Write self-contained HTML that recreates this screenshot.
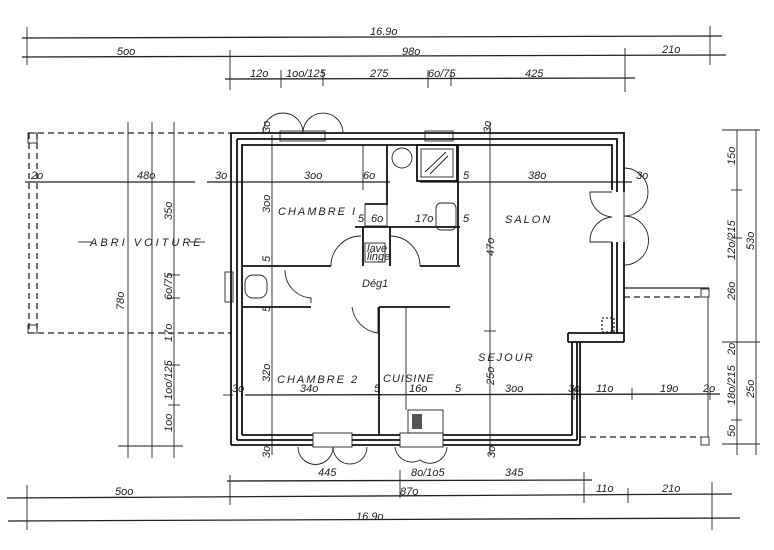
<!DOCTYPE html>
<html><head><meta charset="utf-8"><style>
html,body{margin:0;padding:0;background:#fff;}
svg{display:block;}
text{font-family:"Liberation Sans",sans-serif;font-style:italic;font-size:11px;fill:#222;}
.l{stroke:#222;stroke-width:1.3;fill:none;}
.t{stroke:#222;stroke-width:0.9;fill:none;}
.w{stroke:#111;stroke-width:1.8;fill:none;}
.d{stroke:#222;stroke-width:1.3;fill:none;stroke-dasharray:6,4;}
</style></head><body>
<svg width="774" height="550" viewBox="0 0 774 550" xmlns="http://www.w3.org/2000/svg">
<rect width="774" height="550" fill="#fff"/>
<!-- top dims -->
<line class="l" x1="22" y1="38" x2="722" y2="36"/>
<line class="l" x1="22" y1="57" x2="726" y2="55"/>
<line class="l" x1="225" y1="79" x2="635" y2="78"/>
<line class="t" x1="27" y1="27" x2="27" y2="65"/>
<line class="t" x1="710" y1="26" x2="710" y2="65"/>
<line class="t" x1="230" y1="50" x2="230" y2="90"/>
<line class="t" x1="625" y1="48" x2="625" y2="92"/>
<line class="t" x1="281" y1="70" x2="281" y2="88"/>
<line class="t" x1="323" y1="70" x2="323" y2="86"/>
<line class="t" x1="428" y1="70" x2="428" y2="88"/>
<line class="t" x1="451" y1="72" x2="451" y2="86"/>
<text x="370" y="35">16.9o</text>
<text x="117" y="55">5oo</text>
<text x="402" y="55">98o</text>
<text x="662" y="53">21o</text>
<text x="250" y="77">12o</text>
<text x="286" y="77" font-size="10">1oo/125</text>
<text x="370" y="77">275</text>
<text x="428" y="77" font-size="10">6o/75</text>
<text x="525" y="77">425</text>
<!-- bottom dims -->
<line class="l" x1="227" y1="481" x2="592" y2="480"/>
<line class="l" x1="7" y1="498" x2="732" y2="494"/>
<line class="l" x1="8" y1="521" x2="740" y2="518"/>
<line class="t" x1="27" y1="485" x2="27" y2="530"/>
<line class="t" x1="230" y1="475" x2="230" y2="505"/>
<line class="t" x1="400" y1="470" x2="400" y2="498"/>
<line class="t" x1="584" y1="472" x2="584" y2="503"/>
<line class="t" x1="628" y1="488" x2="628" y2="503"/>
<line class="t" x1="712" y1="482" x2="712" y2="530"/>
<text x="318" y="476">445</text>
<text x="411" y="476" font-size="10">8o/1o5</text>
<text x="505" y="476">345</text>
<text x="115" y="495">5oo</text>
<text x="400" y="495">87o</text>
<text x="596" y="492">11o</text>
<text x="662" y="492">21o</text>
<text x="356" y="520">16.9o</text>
<!-- carport -->
<line class="d" x1="28" y1="133" x2="232" y2="133"/>
<line class="d" x1="28" y1="333" x2="232" y2="333"/>
<line class="d" x1="29" y1="133" x2="29" y2="333"/>
<line class="d" x1="37" y1="133" x2="37" y2="333"/>
<rect class="t" x="28" y="133" width="9" height="10"/>
<rect class="t" x="28" y="325" width="9" height="8"/>
<line class="t" x1="128" y1="122" x2="128" y2="458"/>
<line class="t" x1="152" y1="122" x2="152" y2="458"/>
<line class="t" x1="174" y1="122" x2="174" y2="458"/>
<line class="t" x1="118" y1="446" x2="183" y2="446"/>
<line class="t" x1="168" y1="275" x2="180" y2="275"/>
<line class="t" x1="168" y1="298" x2="180" y2="298"/>
<line class="t" x1="168" y1="365" x2="180" y2="365"/>
<line class="t" x1="168" y1="405" x2="180" y2="405"/>
<text x="90" y="246" letter-spacing="3">ABRI VOITURE</text>
<line class="t" x1="78" y1="242" x2="92" y2="242"/>
<line class="t" x1="190" y1="242" x2="205" y2="242"/>
<!-- horizontal dim lines -->
<line class="l" x1="25" y1="182" x2="195" y2="182"/>
<line class="l" x1="207" y1="182" x2="390" y2="182"/>
<line class="l" x1="420" y1="182" x2="632" y2="182"/>
<line class="l" x1="245" y1="395" x2="720" y2="394"/>
<line class="t" x1="223" y1="395" x2="233" y2="395"/>
<text x="31" y="179" font-size="10">2o</text>
<text x="137" y="179">48o</text>
<text x="215" y="179" font-size="10">3o</text>
<text x="304" y="179">3oo</text>
<text x="363" y="179">6o</text>
<text x="463" y="179">5</text>
<text x="528" y="179">38o</text>
<text x="636" y="179" font-size="10">3o</text>
<text x="232" y="392" font-size="10">3o</text>
<text x="300" y="392">34o</text>
<text x="374" y="392">5</text>
<text x="409" y="392">16o</text>
<text x="455" y="392">5</text>
<text x="505" y="392">3oo</text>
<text x="568" y="392" font-size="10">3o</text>
<text x="596" y="392">11o</text>
<text x="660" y="392">19o</text>
<text x="703" y="392" font-size="10">2o</text>
<line class="t" x1="574" y1="388" x2="574" y2="400"/>
<line class="t" x1="632" y1="388" x2="632" y2="400"/>
<line class="t" x1="710" y1="388" x2="710" y2="400"/>
<!-- vertical dim lines in house -->
<line class="t" x1="272" y1="135" x2="272" y2="455"/>
<line class="t" x1="363" y1="145" x2="363" y2="190"/>
<line class="t" x1="490" y1="122" x2="490" y2="455"/>
<line class="t" x1="484" y1="331" x2="496" y2="331"/>
<!-- main walls -->
<path class="w" d="M231,133 H624 V342 M237,139 H617 V333 M241,145 H612 V190 M612,242 V333"/>
<path class="w" d="M231,133 V445 M237,139 V440 M242,145 V435"/>
<path class="w" d="M231,445 H313 M352,445 H400 M443,445 H580 M237,440 H313 M352,440 H400 M443,440 H577 M242,435 H313 M352,435 H400 M443,435 H572"/>
<path class="w" d="M568,333 H624 M568,342 H624 M568,333 V342 M572,342 V435 M580,342 V445 M577,342 V440"/>
<rect x="602" y="318" width="12" height="14" class="d" style="stroke-dasharray:2,2"/>
<!-- top openings -->
<rect x="280" y="131" width="45" height="10" fill="#fff" class="t"/>
<rect x="425" y="131" width="28" height="10" fill="#fff" class="t"/>
<path class="t" d="M263,133 A20,20 0 0 1 303,133 A20,20 0 0 1 343,133"/>
<!-- bottom openings -->
<rect x="313" y="433" width="39" height="14" fill="#fff" class="t"/>
<rect x="400" y="433" width="43" height="14" fill="#fff" class="t"/>
<path class="t" d="M298,447 A17,17 0 0 0 333,447 A17,17 0 0 0 367,447"/>
<path class="t" d="M395,447 A17,17 0 0 0 420,460 A17,17 0 0 0 447,447"/>
<!-- left window -->
<rect x="225" y="272" width="8" height="30" fill="#fff" class="t"/>
<!-- right door -->
<rect x="610" y="192" width="16" height="50" fill="#fff" stroke="none"/>
<path class="t" d="M624,168 A24,24 0 0 1 624,216 M624,216 A24,24 0 0 1 624,265"/>
<path class="t" d="M612,192 H590 A24,24 0 0 0 612,217 A24,24 0 0 0 590,242 H612"/>
<line class="t" x1="624" y1="192" x2="624" y2="242"/>
<!-- porch -->
<line class="l" x1="624" y1="288" x2="709" y2="288"/>
<line class="d" x1="624" y1="297" x2="701" y2="297"/>
<rect class="t" x="701" y="289" width="8" height="8"/>
<line class="d" x1="580" y1="437" x2="701" y2="437"/>
<rect class="t" x="701" y="437" width="8" height="8"/>
<line class="t" x1="708" y1="297" x2="708" y2="437"/>
<!-- right dims -->
<line class="t" x1="737" y1="130" x2="737" y2="455"/>
<line class="t" x1="756" y1="130" x2="756" y2="455"/>
<line class="t" x1="722" y1="130" x2="760" y2="130"/>
<line class="t" x1="731" y1="190" x2="742" y2="190"/>
<line class="t" x1="731" y1="238" x2="742" y2="238"/>
<line class="t" x1="722" y1="342" x2="760" y2="342"/>
<line class="t" x1="731" y1="420" x2="742" y2="420"/>
<line class="t" x1="722" y1="444" x2="760" y2="444"/>
<g font-size="10">
<text transform="translate(735,165) rotate(-90)">15o</text>
<text transform="translate(735,260) rotate(-90)">12o/215</text>
<text transform="translate(754,250) rotate(-90)">53o</text>
<text transform="translate(735,300) rotate(-90)">26o</text>
<text transform="translate(735,355) rotate(-90)">2o</text>
<text transform="translate(735,405) rotate(-90)">18o/215</text>
<text transform="translate(754,398) rotate(-90)">25o</text>
<text transform="translate(735,437) rotate(-90)">5o</text>
<text transform="translate(172,220) rotate(-90)">35o</text>
<text transform="translate(124,310) rotate(-90)">78o</text>
<text transform="translate(172,300) rotate(-90)">6o/75</text>
<text transform="translate(172,342) rotate(-90)">17o</text>
<text transform="translate(172,400) rotate(-90)">1oo/125</text>
<text transform="translate(172,432) rotate(-90)">1oo</text>
<text transform="translate(270,213) rotate(-90)">3oo</text>
<text transform="translate(270,262) rotate(-90)">5</text>
<text transform="translate(270,312) rotate(-90)">5</text>
<text transform="translate(270,382) rotate(-90)">32o</text>
<text transform="translate(494,256) rotate(-90)">47o</text>
<text transform="translate(494,385) rotate(-90)">25o</text>
<text transform="translate(270,133) rotate(-90)">3o</text>
<text transform="translate(491,133) rotate(-90)">3o</text>
<text transform="translate(270,458) rotate(-90)">3o</text>
<text transform="translate(495,458) rotate(-90)">3o</text>
</g>
<!-- interior: bath block -->
<path class="w" d="M387,145 V205 M365,204 H387 M458,145 V265 M355,227 H460"/>
<rect class="t" x="365" y="204" width="22" height="22"/>
<circle class="t" cx="402" cy="158" r="10"/>
<rect x="417" y="145" width="40" height="36" class="w"/>
<rect x="421" y="149" width="32" height="28" class="t"/>
<path class="t" d="M425,172 L446,152 M430,174 L448,156"/>
<rect x="436" y="203" width="20" height="27" rx="5" class="t"/>
<rect class="t" x="365" y="243" width="20" height="19"/>
<text x="367" y="252" font-size="6">lave</text>
<text x="367" y="260" font-size="6">linge</text>
<!-- Deg walls -->
<path class="w" d="M243,266 H331 M420,266 H460 M363,227 V266 M390,227 V266"/>
<path class="t" d="M331,266 A30,30 0 0 1 361,236 M420,266 A30,30 0 0 0 391,236"/>
<rect class="t" x="245" y="275" width="22" height="23" rx="8"/>
<path class="w" d="M243,307 H311 M379,307 H450"/>
<path class="t" d="M285,270 A28,28 0 0 0 311,298 V303 M352,307 A30,30 0 0 0 378,333 V307"/>
<line class="w" x1="379" y1="307" x2="379" y2="435"/>
<line class="t" x1="406" y1="307" x2="406" y2="410"/>
<rect class="t" x="408" y="410" width="35" height="23"/>
<rect x="412" y="414" width="10" height="15" fill="#555"/>
<!-- room labels -->
<g letter-spacing="2">
<text x="278" y="215">CHAMBRE I</text>
<text x="505" y="223">SALON</text>
<text x="478" y="361">SEJOUR</text>
<text x="277" y="383">CHAMBRE 2</text>
<text x="383" y="382" letter-spacing="1">CUISINE</text>
</g>
<text x="358" y="222">5</text>
<text x="371" y="222">6o</text>
<text x="415" y="222">17o</text>
<text x="463" y="222">5</text>
<text x="362" y="287">Dég1</text>
</svg>
</body></html>
